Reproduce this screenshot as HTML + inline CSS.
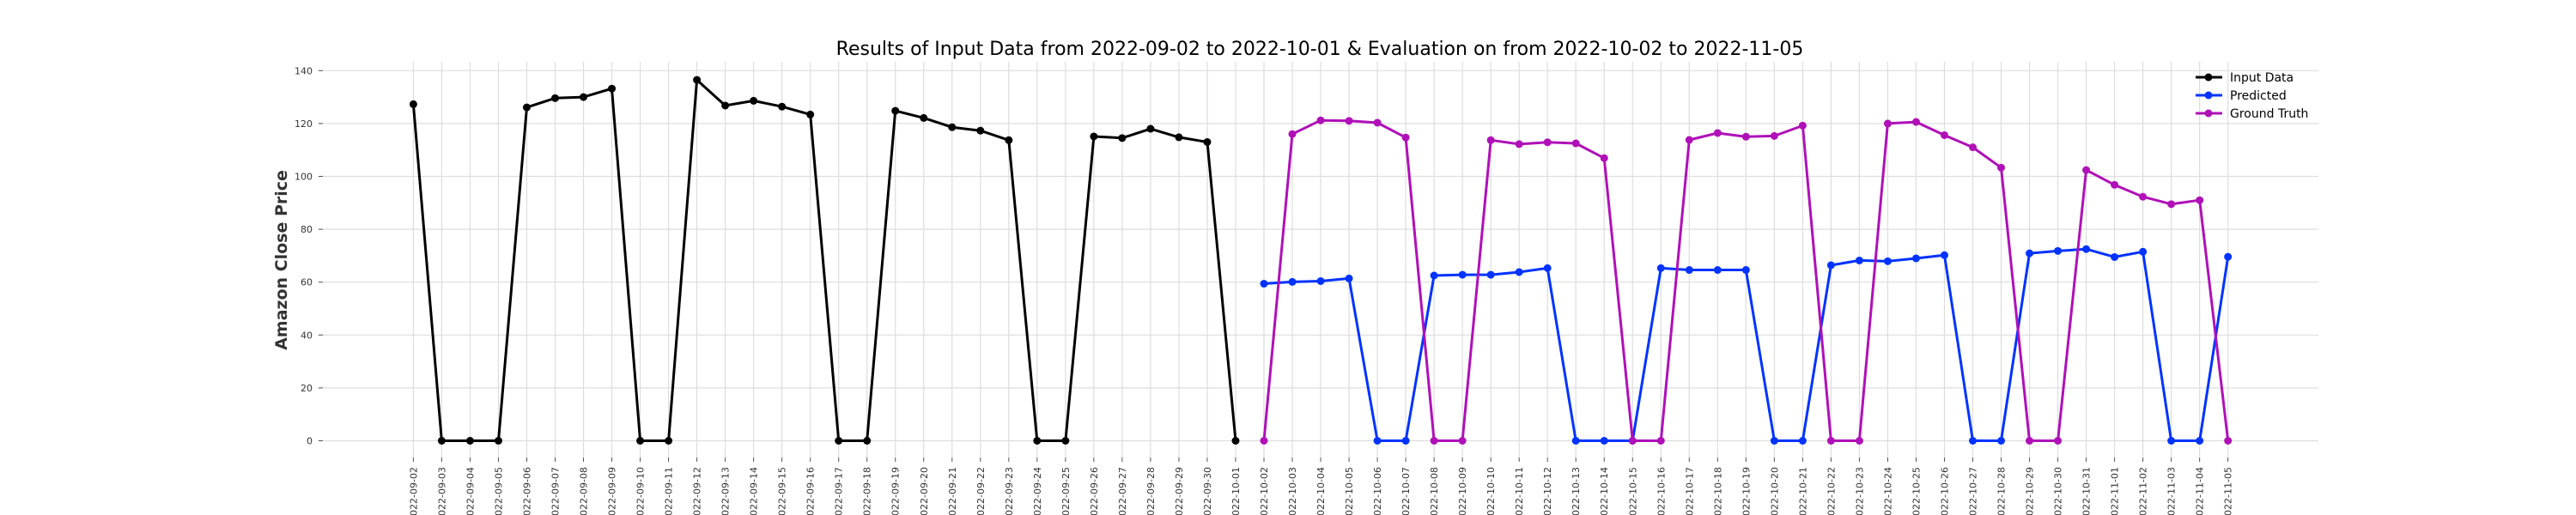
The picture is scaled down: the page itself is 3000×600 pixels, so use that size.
<!DOCTYPE html>
<html><head><meta charset="utf-8"><style>
html,body{margin:0;padding:0;background:#fff;}
svg{display:block;font-family:"DejaVu Sans","Liberation Sans",sans-serif;}
</style></head><body>
<svg id="chart" width="3000" height="600" viewBox="0 0 3000 600" xmlns="http://www.w3.org/2000/svg">
<text x="1537" y="64" font-size="22" text-anchor="middle" fill="#000">Results of Input Data from 2022-09-02 to 2022-10-01 &amp; Evaluation on from 2022-10-02 to 2022-11-05</text>
<text transform="translate(334,303) rotate(-90)" font-size="19" font-weight="bold" text-anchor="middle" fill="#333">Amazon Close Price</text>
<g id="grid"></g>
<g id="yticks"></g>
<g id="xticks"></g>
<g id="series"></g>
<g>
  <g><line x1="2557" y1="90" x2="2588" y2="90" stroke="#000" stroke-width="3"/><circle cx="2572" cy="90" r="4.5" fill="#000"/><text x="2597" y="95" font-size="14" fill="#000">Input Data</text></g>
  <g><line x1="2557" y1="111" x2="2588" y2="111" stroke="#0033ff" stroke-width="3"/><circle cx="2572" cy="111" r="4.5" fill="#0033ff"/><text x="2597" y="116" font-size="14" fill="#000">Predicted</text></g>
  <g><line x1="2557" y1="132" x2="2588" y2="132" stroke="#b010b8" stroke-width="3"/><circle cx="2572" cy="132" r="4.5" fill="#b010b8"/><text x="2597" y="137" font-size="14" fill="#000">Ground Truth</text></g>
</g>
</svg>
<script>
const inputDates = ["2022-09-02","2022-09-03","2022-09-04","2022-09-05","2022-09-06","2022-09-07","2022-09-08","2022-09-09","2022-09-10","2022-09-11","2022-09-12","2022-09-13","2022-09-14","2022-09-15","2022-09-16","2022-09-17","2022-09-18","2022-09-19","2022-09-20","2022-09-21","2022-09-22","2022-09-23","2022-09-24","2022-09-25","2022-09-26","2022-09-27","2022-09-28","2022-09-29","2022-09-30","2022-10-01"];
const inputValues = [127.3,0,0,0,126.1,129.6,130.0,133.2,0,0,136.5,126.8,128.6,126.4,123.4,0,0,124.8,122.1,118.6,117.3,113.7,0,0,115.1,114.5,118.0,114.8,113.0,0];
const evalDates = ["2022-10-02","2022-10-03","2022-10-04","2022-10-05","2022-10-06","2022-10-07","2022-10-08","2022-10-09","2022-10-10","2022-10-11","2022-10-12","2022-10-13","2022-10-14","2022-10-15","2022-10-16","2022-10-17","2022-10-18","2022-10-19","2022-10-20","2022-10-21","2022-10-22","2022-10-23","2022-10-24","2022-10-25","2022-10-26","2022-10-27","2022-10-28","2022-10-29","2022-10-30","2022-10-31","2022-11-01","2022-11-02","2022-11-03","2022-11-04","2022-11-05"];
const predictedValues = [59.4,60.1,60.4,61.4,0,0,62.5,62.8,62.8,63.8,65.3,0,0,0,65.3,64.6,64.6,64.6,0,0,66.4,68.2,67.9,69.0,70.2,0,0,70.9,71.8,72.5,69.5,71.5,0,0,69.6];
const truthValues = [0,116.0,121.2,121.0,120.3,114.7,0,0,113.7,112.2,112.9,112.5,106.9,0,0,113.8,116.4,115.0,115.3,119.2,0,0,120.0,120.6,115.6,111.0,103.3,0,0,102.4,96.8,92.3,89.5,91.0,0];
const yTicks = [0,20,40,60,80,100,120,140];

const NS = "http://www.w3.org/2000/svg";
const allDates = inputDates.concat(evalDates);
const X0 = 481.4, DX = 33.02, Y0 = 513.5, KY = 3.08;
const PL = 371, PR = 2700, PT = 72, PB = 533;
function xPos(i){ return X0 + DX*i; }
function yPos(v){ return Y0 - v*KY; }
function mk(tag, attrs, parent){ const e=document.createElementNS(NS,tag); for(const k in attrs) e.setAttribute(k,attrs[k]); parent.appendChild(e); return e; }

const grid=document.getElementById('grid'), yt=document.getElementById('yticks'), xt=document.getElementById('xticks'), ser=document.getElementById('series');
yTicks.forEach(v=>{
  const y=yPos(v);
  const gl=mk('line',{x1:PL,x2:PR,y1:y,y2:y,stroke:'#dddddd','stroke-width':1.2},grid);
  
  
  mk('line',{x1:371,x2:376,y1:y,y2:y,stroke:'#555','stroke-width':1},yt);
  const t=mk('text',{x:364,y:y+4,'font-size':11,'text-anchor':'end',fill:'#333'},yt);
  t.textContent=v;
  
  
});
allDates.forEach((d,i)=>{
  const x=xPos(i);
  const gl=mk('line',{x1:x,x2:x,y1:PT,y2:PB,stroke:'#dddddd','stroke-width':1.2},grid);
  
  
  mk('line',{x1:x,x2:x,y1:PB,y2:PB+5,stroke:'#555','stroke-width':1},xt);
  const t=mk('text',{transform:`translate(${x+4},544) rotate(-90)`,'font-size':11,'text-anchor':'end',fill:'#333'},xt);
  t.textContent=d;
  
  
});
function drawSeries(vals, offset, color, name){
  const g=mk('g',{},ser);
  
  
  const pts=vals.map((v,i)=>xPos(i+offset).toFixed(1)+','+yPos(v).toFixed(1)).join(' ');
  mk('polyline',{points:pts,fill:'none',stroke:color,'stroke-width':3,'stroke-linejoin':'round'},g);
  vals.forEach((v,i)=>{
    const c=mk('circle',{cx:xPos(i+offset),cy:yPos(v),r:4.5,fill:color},g);
    
    
  });
}
drawSeries(inputValues,0,'#000000','input-data-series');
drawSeries(predictedValues,inputDates.length,'#0033ff','predicted-series');
drawSeries(truthValues,inputDates.length,'#b010b8','ground-truth-series');
</script>
</body></html>
